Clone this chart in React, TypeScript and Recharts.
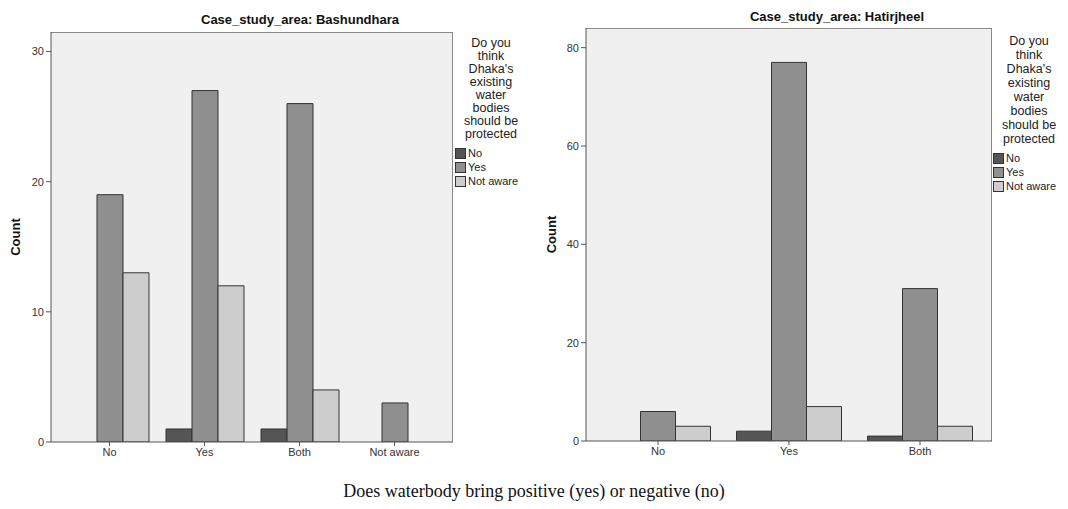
import React from 'react';
import { BarChart, Bar, XAxis, YAxis, CartesianGrid, Legend } from 'recharts';

// responses to "Do you think Dhaka's existing water bodies should be protected"
const seriesNames = ['No', 'Yes', 'Not aware'];
const seriesColors = ['#555555', '#8f8f8f', '#cdcdcd'];

const bashundharaCategories = ['No', 'Yes', 'Both', 'Not aware'];
const bashundharaNo = [0, 1, 1, 0];
const bashundharaYes = [19, 27, 26, 3];
const bashundharaNotAware = [13, 12, 4, 0];
const bashundharaTicks = [0, 10, 20, 30];

const hatirjheelCategories = ['No', 'Yes', 'Both'];
const hatirjheelNo = [0, 2, 1];
const hatirjheelYes = [6, 77, 31];
const hatirjheelNotAware = [3, 7, 3];
const hatirjheelTicks = [0, 20, 40, 60, 80];

const legendTitle = ['Do you', 'think', "Dhaka's", 'existing', 'water', 'bodies', 'should be', 'protected'];

const FONT = '"Liberation Sans", Arial, sans-serif';
const AXIS = '#555555';
const W = 534;
const H = 470;

const buildRows = (cats: string[], no: number[], yes: number[], na: number[]) =>
  cats.map((c, i) => ({ category: c, No: no[i], Yes: yes[i], 'Not aware': na[i] }));

const LegendBox = ({ payload, lineHeight }: any) => {
  const items = [...(payload || [])].sort(
    (a: any, b: any) => seriesNames.indexOf(a.value) - seriesNames.indexOf(b.value)
  );
  return (
    <div style={{ fontFamily: FONT, fontSize: 11, color: '#222', width: 72 }}>
      <div style={{ textAlign: 'center', lineHeight: `${lineHeight}px`, fontSize: 12.5 }}>
        {legendTitle.map((l) => (
          <div key={l}>{l}</div>
        ))}
      </div>
      <div style={{ marginTop: 5 }}>
        {items.map((p: any) => (
          <div key={p.value} style={{ display: 'flex', alignItems: 'center', height: 14 }}>
            <span
              style={{
                display: 'inline-block',
                width: 9,
                height: 9,
                background: p.color,
                border: '1px solid #333',
                marginRight: 2,
              }}
            />
            <span>{p.value}</span>
          </div>
        ))}
      </div>
    </div>
  );
};

const CountLabel = ({ viewBox, labelX }: any) => {
  const cy = viewBox.y + viewBox.height / 2;
  return (
    <text
      x={labelX}
      y={cy}
      transform={`rotate(-90, ${labelX}, ${cy})`}
      textAnchor="middle"
      dominantBaseline="central"
      style={{ fontFamily: FONT, fontSize: 13, fontWeight: 'bold', fill: '#111' }}
    >
      Count
    </text>
  );
};

interface PanelProps {
  rows: any[];
  ticks: number[];
  yMax: number;
  barSize: number;
  pad: number;
  margin: { top: number; right: number; bottom: number; left: number };
  yWidth: number;
  labelX: number;
  legendTop: number;
  legendLeft: number;
  legendLine: number;
}

const Panel: React.FC<PanelProps> = ({
  rows,
  ticks,
  yMax,
  barSize,
  pad,
  margin,
  yWidth,
  labelX,
  legendTop,
  legendLeft,
  legendLine,
}) => (
  <BarChart width={W} height={H} data={rows} margin={margin} barGap={0} barSize={barSize}>
    {/* grey plot background, with the top and right edges of the frame */}
    <CartesianGrid
      fill="#f0f0f0"
      fillOpacity={1}
      stroke="#888888"
      horizontalPoints={[margin.top + 0.5]}
      verticalPoints={[W - margin.right - 0.5]}
    />
    <XAxis
      dataKey="category"
      height={20}
      padding={{ left: pad, right: pad }}
      stroke={AXIS}
      tickSize={4}
      tick={{ fontFamily: FONT, fontSize: 11, fill: '#333' }}
    />
    <YAxis
      width={yWidth}
      domain={[0, yMax]}
      ticks={ticks}
      allowDataOverflow
      stroke={AXIS}
      tickSize={5}
      tick={{ fontFamily: FONT, fontSize: 11, fill: '#333' }}
      label={<CountLabel labelX={labelX} />}
    />
    <Legend
      layout="horizontal"
      align="center"
      verticalAlign="middle"
      content={<LegendBox lineHeight={legendLine} />}
      wrapperStyle={{ position: 'absolute', top: legendTop, left: legendLeft, width: 74 }}
    />
    {seriesNames.map((s, i) => (
      <Bar key={s} dataKey={s} fill={seriesColors[i]} stroke="#333" strokeWidth={1} isAnimationActive={false} />
    ))}
  </BarChart>
);

export default function App() {
  const left = buildRows(bashundharaCategories, bashundharaNo, bashundharaYes, bashundharaNotAware);
  const right = buildRows(hatirjheelCategories, hatirjheelNo, hatirjheelYes, hatirjheelNotAware);
  const titleStyle: React.CSSProperties = {
    position: 'absolute',
    width: 220,
    textAlign: 'center',
    fontFamily: FONT,
    fontSize: 13,
    fontWeight: 'bold',
    color: '#111',
  };
  return (
    <div style={{ position: 'absolute', left: 0, top: 0, width: 1068, height: 509, background: '#fff' }}>
      <div style={{ ...titleStyle, left: 190, top: 12 }}>Case_study_area: Bashundhara</div>
      <div style={{ ...titleStyle, left: 534 + 193, top: 9 }}>Case_study_area: Hatirjheel</div>
      <div style={{ position: 'absolute', left: 0, top: 0 }}>
        <Panel
          rows={left}
          ticks={bashundharaTicks}
          yMax={31.5}
          barSize={26}
          pad={11}
          margin={{ top: 32, right: 81, bottom: 8, left: 0 }}
          yWidth={51}
          labelX={15}
          legendTop={37}
          legendLeft={455}
          legendLine={13}
        />
      </div>
      <div style={{ position: 'absolute', left: 534, top: 0 }}>
        <Panel
          rows={right}
          ticks={hatirjheelTicks}
          yMax={84}
          barSize={35}
          pad={6.5}
          margin={{ top: 28, right: 76, bottom: 9, left: 0 }}
          yWidth={52}
          labelX={17}
          legendTop={34}
          legendLeft={459}
          legendLine={14}
        />
      </div>
      <div
        style={{
          position: 'absolute',
          left: 0,
          width: 1068,
          top: 481,
          textAlign: 'center',
          fontFamily: '"Liberation Serif", "Times New Roman", serif',
          fontSize: 18,
          color: '#111',
        }}
      >
        Does waterbody bring positive (yes) or negative (no)
      </div>
    </div>
  );
}
